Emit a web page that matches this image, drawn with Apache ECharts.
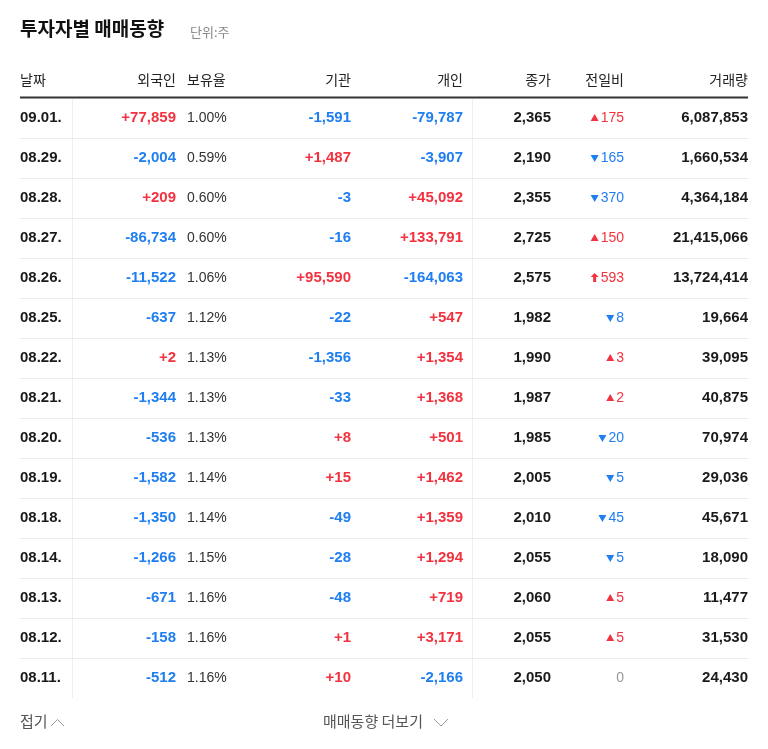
<!DOCTYPE html>
<html><head><meta charset="utf-8">
<script src="https://cdn.jsdelivr.net/npm/echarts@6/dist/echarts.min.js"></script>
<style>html,body{margin:0;padding:0;background:#fff}#c{width:768px;height:749px}</style>
</head><body><div id="c"></div>
<script>
const dates = ["09.01.","08.29.","08.28.","08.27.","08.26.","08.25.","08.22.","08.21.","08.20.","08.19.","08.18.","08.14.","08.13.","08.12.","08.11."];
const foreign = [77859,-2004,209,-86734,-11522,-637,2,-1344,-536,-1582,-1350,-1266,-671,-158,-512];
const holdRatio = ["1.00%","0.59%","0.60%","0.60%","1.06%","1.12%","1.13%","1.13%","1.13%","1.14%","1.14%","1.15%","1.16%","1.16%","1.16%"];
const inst = [-1591,1487,-3,-16,95590,-22,-1356,-33,8,15,-49,-28,-48,1,10];
const indiv = [-79787,-3907,45092,133791,-164063,547,1354,1368,501,1462,1359,1294,719,3171,-2166];
const close = [2365,2190,2355,2725,2575,1982,1990,1987,1985,2005,2010,2055,2060,2055,2050];
const change = [175,-165,-370,150,593,-8,3,2,-20,-5,-45,-5,5,5,0];
const upperLimit = [false,false,false,false,true,false,false,false,false,false,false,false,false,false,false];
const volume = [6087853,1660534,4364184,21415066,13724414,19664,39095,40875,70974,29036,45671,18090,11477,31530,24430];
const headers = ["날짜","외국인","보유율","기관","개인","종가","전일비","거래량"];

const RED='#f2333f', BLUE='#1f7ef0', DARK='#1a1a1a', GRAY='#999';
const NUM='"Liberation Sans", Arial, sans-serif';
const KR='"Noto Sans CJK KR", sans-serif';
const FS=15;
const fmt = n => Math.abs(n).toLocaleString('en-US');
const signed = n => (n>0?'+':n<0?'-':'') + fmt(n);
const col = n => n>0?RED:n<0?BLUE:DARK;
const cv=document.createElement('canvas').getContext('2d');
function tw(t,font){cv.font=font;return cv.measureText(t).width;}

const chart = echarts.init(document.getElementById('c'));
const rows = dates.map((d,i)=>[0,i]);
function txt(x,y,t,color,bold,align,size){
  return {type:'text',x:x,y:y,style:{text:t,fill:color,font:(bold?'bold ':'')+(size||FS)+'px '+NUM,align:align||'right',verticalAlign:'middle'}};
}
chart.setOption({
  animation:false,
  title:{text:'투자자별 매매동향',left:20,top:19,padding:0,textStyle:{fontFamily:KR,fontSize:19,fontWeight:'bold',color:'#111'}},
  graphic:[
    {type:'text',x:190,y:32,style:{text:'단위:주',font:'13px '+KR,fill:'#888',verticalAlign:'middle'}},
    {type:'line',shape:{x1:20,y1:97.5,x2:748,y2:97.5},style:{stroke:'#333',lineWidth:2}},
    {type:'line',shape:{x1:72.5,y1:99,x2:72.5,y2:698},style:{stroke:'#eee',lineWidth:1}},
    {type:'line',shape:{x1:472.5,y1:99,x2:472.5,y2:698},style:{stroke:'#eee',lineWidth:1}},
    {type:'text',x:20,y:721,style:{text:'접기',font:'15px '+KR,fill:'#555',verticalAlign:'middle'}},
    {type:'polyline',shape:{points:[[51,726],[57.5,719.5],[64,726]]},style:{stroke:'#999',fill:null,lineWidth:1}},
    {type:'text',x:323,y:721,style:{text:'매매동향 더보기',font:'15px '+KR,fill:'#555',verticalAlign:'middle'}},
    {type:'polyline',shape:{points:[[434,719],[441,726],[448,719]]},style:{stroke:'#999',fill:null,lineWidth:1}},
    ...[[20,'left'],[176],[187,'left'],[351],[463],[551],[624],[748]].map((p,k)=>({
      type:'text',x:p[0],y:80,style:{text:headers[k],font:'14px '+KR,fill:'#222',align:p[1]||'right',verticalAlign:'middle'}}))
  ],
  grid:{left:20,right:20,top:98,height:600},
  xAxis:{type:'value',min:20,max:748,show:false},
  yAxis:{type:'category',data:dates,inverse:true,axisLine:{show:false},axisTick:{show:false},axisLabel:{show:false},splitLine:{show:false}},
  series:[{type:'custom',data:rows,renderItem:function(params,api){
    const i=api.value(1);
    const y=api.coord([20,i])[1];
    const h=api.size([0,1])[1];
    const X=x=>api.coord([x,i])[0];
    const ch=[];
    if(i<dates.length-1){
      const ly=Math.round(y+h/2)+0.5;
      ch.push({type:'line',shape:{x1:X(20),y1:ly,x2:X(748),y2:ly},style:{stroke:'#ebebeb',lineWidth:1}});
    }
    ch.push(txt(X(20),y,dates[i],DARK,true,'left'));
    ch.push(txt(X(176),y,signed(foreign[i]),col(foreign[i]),true));
    ch.push(txt(X(187),y,holdRatio[i],'#333',false,'left',14));
    ch.push(txt(X(351),y,signed(inst[i]),col(inst[i]),true));
    ch.push(txt(X(463),y,signed(indiv[i]),col(indiv[i]),true));
    ch.push(txt(X(551),y,fmt(close[i]),DARK,true));
    const c=change[i];
    const cc=c>0?RED:c<0?BLUE:GRAY;
    ch.push(txt(X(624),y,fmt(c),cc,false,'right',14));
    if(c!==0){
      const w=tw(fmt(c),'14px '+NUM);
      const ax=X(624)-w-6;
      let pts;
      if(upperLimit[i]) pts=[[ax,y-5],[ax+4,y-1],[ax+1.5,y-1],[ax+1.5,y+4],[ax-1.5,y+4],[ax-1.5,y-1],[ax-4,y-1]];
      else if(c>0) pts=[[ax-4,y+3],[ax+4,y+3],[ax,y-4]];
      else pts=[[ax-4,y-3],[ax+4,y-3],[ax,y+4]];
      ch.push({type:'polygon',shape:{points:pts},style:{fill:cc}});
    }
    ch.push(txt(X(748),y,fmt(volume[i]),DARK,true));
    return {type:'group',children:ch};
  }}]
});
</script></body></html>
